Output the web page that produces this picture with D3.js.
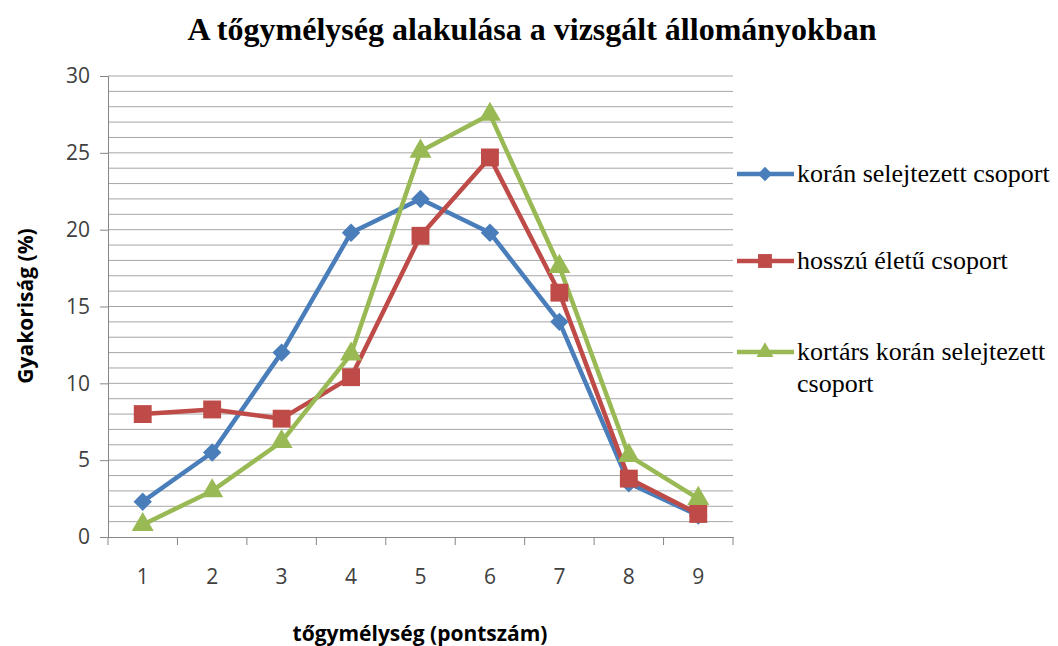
<!DOCTYPE html>
<html><head><meta charset="utf-8">
<script src="https://cdn.jsdelivr.net/npm/d3@7"></script>
<style>body{margin:0;background:#fff}svg{display:block}</style>
</head><body>
<script>
const categories = ["1","2","3","4","5","6","7","8","9"];
const seriesNames = ["korán selejtezett csoport","hosszú életű csoport","kortárs korán selejtezett csoport"];
const koranValues = [2.3,5.5,12.0,19.8,22.0,19.8,14.0,3.5,1.4];
const hosszuValues = [8.0,8.3,7.7,10.4,19.6,24.7,15.9,3.8,1.5];
const kortarsValues = [0.8,3.0,6.2,11.9,25.1,27.5,17.6,5.3,2.5];
const yTicks = [0,5,10,15,20,25,30];
const colors = ["#4a7ebb","#be4b48","#98b954"];

const W=1058,H=646;
const svg=d3.select("body").append("svg").attr("width",W).attr("height",H);
const L=108,R=733,T=76,B=537;
const x=d3.scaleBand().domain(categories).range([L,R]);
const y=d3.scaleLinear().domain([0,30]).range([B,T]);
const sans="Open Sans, Carlito, sans-serif";
const serif="Liberation Serif, Times New Roman, serif";

// title
svg.append("text").attr("x",532).attr("y",40).attr("text-anchor","middle")
 .attr("font-family",serif).attr("font-weight","bold")
 .attr("font-size",32).attr("fill","#000").text("A tőgymélység alakulása a vizsgált állományokban");

// gridlines every 1
svg.append("g").selectAll("line").data(d3.range(1,31)).join("line")
 .attr("x1",L).attr("x2",R).attr("y1",d=>y(d)).attr("y2",d=>y(d))
 .attr("stroke","#a6a6a6").attr("stroke-width",1);

// y axis
const yAxis=svg.append("g").attr("transform",`translate(${L},0)`)
 .call(d3.axisLeft(y).tickValues(yTicks).tickSize(8).tickPadding(10));
yAxis.select(".domain").attr("stroke","#868686");
yAxis.selectAll(".tick line").attr("stroke","#868686");
yAxis.selectAll("text").attr("font-family",sans).attr("font-size",21).attr("fill","#404040");

// x axis
const xAxis=svg.append("g").attr("transform",`translate(0,${B})`)
 .call(d3.axisBottom(x).tickSize(0).tickPadding(32));
xAxis.select(".domain").attr("stroke","#868686");
xAxis.selectAll("text").attr("font-family",sans).attr("font-size",21).attr("fill","#404040");
const bounds=categories.map(c=>x(c)).concat([x.range()[1]]);
xAxis.selectAll("line.bt").data(bounds).join("line").attr("class","bt")
 .attr("x1",d=>d).attr("x2",d=>d).attr("y1",0).attr("y2",8).attr("stroke","#868686");

// axis titles
svg.append("text").attr("transform","translate(33,306) rotate(-90)").attr("text-anchor","middle")
 .attr("font-family",sans).attr("font-weight","bold").attr("font-size",21)
 .attr("fill","#000").text("Gyakoriság (%)");
svg.append("text").attr("x",420).attr("y",641).attr("text-anchor","middle")
 .attr("font-family",sans).attr("font-weight","bold").attr("font-size",21)
 .attr("fill","#000").text("tőgymélység (pontszám)");

const allSeries=[koranValues,hosszuValues,kortarsValues];
const cx=c=>x(c)+x.bandwidth()/2;
const line=d3.line().x((d,i)=>cx(categories[i])).y(d=>y(d));
const symbols=[d3.symbolSquare,d3.symbolSquare,d3.symbolTriangle];
const rots=[45,0,0];
const sizes=[170,320,210];

allSeries.forEach((vals,si)=>{
  svg.append("path").datum(vals).attr("d",line).attr("fill","none")
   .attr("stroke",colors[si]).attr("stroke-width",4.5).attr("stroke-linejoin","round");
});
allSeries.forEach((vals,si)=>{
  svg.append("g").selectAll("path").data(vals).join("path")
   .attr("transform",(d,i)=>`translate(${cx(categories[i])},${y(d)}) rotate(${rots[si]})`)
   .attr("d",d3.symbol().type(symbols[si]).size(sizes[si])).attr("fill",colors[si]);
});

// legend
const legY=[174,261,352];
const leg=svg.append("g");
seriesNames.forEach((name,i)=>{
  const gy=legY[i];
  leg.append("line").attr("x1",737).attr("x2",794).attr("y1",gy).attr("y2",gy)
   .attr("stroke",colors[i]).attr("stroke-width",4.5);
  leg.append("path").attr("transform",`translate(765,${gy}) rotate(${rots[i]})`)
   .attr("d",d3.symbol().type(symbols[i]).size(sizes[i]*0.6)).attr("fill",colors[i]);
  const t=leg.append("text").attr("x",797).attr("y",gy+8)
   .attr("font-family",serif).attr("font-size",26).attr("fill","#000");
  if(i===2){
    t.text("kortárs korán selejtezett");
    leg.append("text").attr("x",797).attr("y",gy+40)
     .attr("font-family",serif).attr("font-size",26).attr("fill","#000").text("csoport");
  } else t.text(name);
});
</script>
</body></html>
